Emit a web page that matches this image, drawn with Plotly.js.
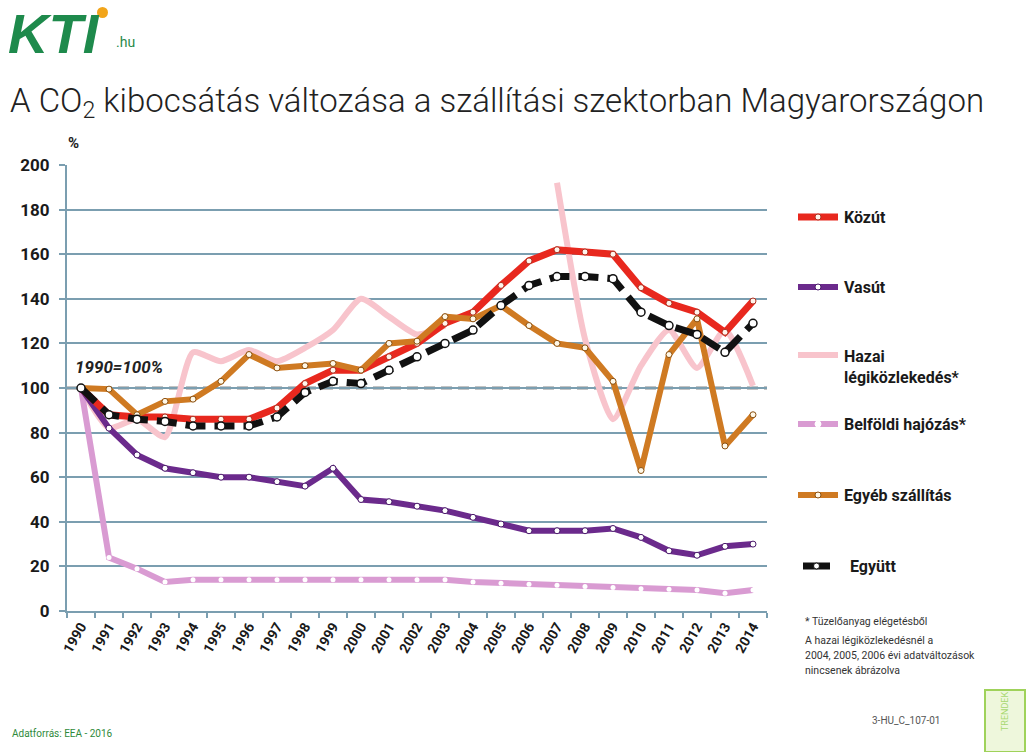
<!DOCTYPE html>
<html>
<head>
<meta charset="utf-8">
<script src="https://cdn.plot.ly/plotly-3.0.1.min.js"></script>
<style>html,body{margin:0;padding:0;background:#fff;}#chart{width:1034px;height:752px;}</style>
</head>
<body>
<div id="chart"></div>
<script>
// ---- data (percent, 1990 = 100) ----
const years = ['1990','1991','1992','1993','1994','1995','1996','1997','1998','1999','2000','2001','2002','2003','2004','2005','2006','2007','2008','2009','2010','2011','2012','2013','2014'];
const kozut   = [100, 88, 87, 87, 86, 86, 86, 91, 102, 108, 108, 114, 120, 129, 134, 146, 157, 162, 161, 160, 145, 138, 134, 125, 139];
const vasut   = [100, 82, 70, 64, 62, 60, 60, 58, 56, 64, 50, 49, 47, 45, 42, 39, 36, 36, 36, 37, 33, 27, 25, 29, 30];
const hazai   = [100, 82, 86, 78, 116, 112, 117, 112, 118, 126, 140, 132, 124, 128, null, null, null, 192, 122, 86, 110, 126, 109, 126, 101];
const hajozas = [100, 24, 19, 13, 14, 14, 14, 14, 14, 14, 14, 14, 14, 14, 13, 12.5, 12, 11.5, 11, 10.5, 10, 9.7, 9.4, 8, 9.4];
const egyeb   = [100, 99.5, 88, 94, 95, 103, 115, 109, 110, 111, 108, 120, 121, 132, 131, 137, 128, 120, 118, 103, 63, 115, 131, 74, 88];
const egyutt  = [100, 88, 86, 85, 83, 83, 83, 87, 98, 103, 102, 108, 114, 120, 126, 137, 146, 150, 150, 149, 134, 128, 124, 116, 129];

const seriesNames = ['Közút','Vasút','Hazai<br>légiközlekedés*','Belföldi hajózás*','Egyéb szállítás','Együtt'];
const footnotes = ['* Tüzelőanyag elégetésből','A hazai légiközlekedésnél a','2004, 2005, 2006 évi adatváltozások','nincsenek ábrázolva'];

// ---- styling ----
const FONT = 'Roboto, "Open Sans", sans-serif';
const C = {red:'#e8281e', purple:'#6b2a8c', pink:'#f8c4cc', orchid:'#d99bd2', orange:'#cf7a22', black:'#111111'};
const GRID = '#7b9eb0';

// plot area in pixels
const L = 67, R = 767, T = 165, B = 611;
const px = x => (x - L) / (R - L);
const py = y => (B - y) / (B - T);

function mk(fill, line, size, lw){ return {symbol:'circle', size:size, color:fill, line:{color:line, width:lw}}; }

const traces = [
  {x:years, y:hazai, name:seriesNames[2], mode:'lines', connectgaps:false,
   line:{color:C.pink, width:6, shape:'spline', smoothing:0.6}},
  {x:years, y:hajozas, name:seriesNames[3], mode:'lines+markers',
   line:{color:C.orchid, width:6}, marker:mk('#ffffff','#ffffff',5,0)},
  {x:years, y:vasut, name:seriesNames[1], mode:'lines+markers',
   line:{color:C.purple, width:6}, marker:mk('#ffffff','#4a1a6a',6,1)},
  {x:years, y:kozut, name:seriesNames[0], mode:'lines+markers',
   line:{color:C.red, width:7}, marker:mk('#fff4ec','#b03020',6,1)},
  {x:years, y:egyeb, name:seriesNames[4], mode:'lines+markers',
   line:{color:C.orange, width:6}, marker:mk('#fff8e8','#8a5010',6,1)},
  {x:years, y:egyutt, name:seriesNames[5], mode:'lines+markers',
   line:{color:C.black, width:7, dash:'20px,9px'}, marker:mk('#ffffff','#111111',8,1.5)}
];

const shapes = [
  // 1990 = 100 reference line
  {type:'line', xref:'paper', yref:'y', x0:0, x1:1, y0:100, y1:100, line:{color:'#111', width:2.5, dash:'11px,6px'}, layer:'below'},
  // logo dot
  {type:'circle', xref:'paper', yref:'paper', x0:px(97), x1:px(108), y0:py(7), y1:py(18), fillcolor:'#f2a51a', line:{width:0}},
  // TRENDEK box
  {type:'rect', xref:'paper', yref:'paper', x0:px(985), x1:px(1025), y0:py(690), y1:py(752), fillcolor:'#eef7dc', line:{color:'#9fd25a', width:2}}
];

const annotations = [
  {xref:'paper', yref:'paper', x:px(66), y:py(143), text:'<b>%</b>', showarrow:false, xanchor:'left', yanchor:'middle', font:{family:FONT, size:15, color:'#222'}},
  {xref:'paper', yref:'paper', x:px(73), y:py(367), text:'<b><i>1990=100%</i></b>', showarrow:false, xanchor:'left', yanchor:'middle', font:{family:FONT, size:17, color:'#222'}},
  {xref:'paper', yref:'paper', x:px(6), y:py(33), text:'<b><i>KTI</i></b>', showarrow:false, xanchor:'left', yanchor:'middle', font:{family:'"Liberation Sans", Arial, sans-serif', size:56, color:'#1e8a4c'}},
  {xref:'paper', yref:'paper', x:px(114), y:py(42), text:'.hu', showarrow:false, xanchor:'left', yanchor:'middle', font:{family:FONT, size:14, color:'#2a8a4a'}},
  {xref:'paper', yref:'paper', x:px(10), y:py(733), text:'Adatforrás: EEA - 2016', showarrow:false, xanchor:'left', yanchor:'middle', font:{family:FONT, size:10, color:'#2f8a3a'}},
  {xref:'paper', yref:'paper', x:px(870), y:py(720), text:'3-HU_C_107-01', showarrow:false, xanchor:'left', yanchor:'middle', font:{family:FONT, size:10, color:'#555'}},
  {xref:'paper', yref:'paper', x:px(1005), y:py(712), text:'TRENDEK', textangle:-90, showarrow:false, xanchor:'center', yanchor:'middle', font:{family:FONT, size:9, color:'#a8d870'}}
];

// custom legend
const legendItems = [
  {y:217, color:C.red, width:7, marker:true, mfill:'#fff4ec', mline:'#b03020', x0:798, x1:838, tx:842},
  {y:287, color:C.purple, width:6, marker:true, mfill:'#ffffff', mline:'#4a1a6a', x0:798, x1:838, tx:842},
  {y:355, color:C.pink, width:6, marker:false, x0:798, x1:838, tx:842},
  {y:424, color:C.orchid, width:6, marker:true, mfill:'#ffffff', mline:'#ffffff', x0:798, x1:838, tx:842},
  {y:495, color:C.orange, width:6, marker:true, mfill:'#fff8e8', mline:'#8a5010', x0:798, x1:838, tx:842},
  {y:566, color:C.black, width:7, marker:true, mfill:'#ffffff', mline:'#111111', x0:803, x1:830, tx:848}
];
legendItems.forEach((it, i) => {
  shapes.push({type:'line', xref:'paper', yref:'paper', x0:px(it.x0), x1:px(it.x1), y0:py(it.y), y1:py(it.y), line:{color:it.color, width:it.width}});
  if (it.marker) {
    const cx = (it.x0 + it.x1) / 2;
    shapes.push({type:'circle', xref:'paper', yref:'paper', x0:px(cx-3), x1:px(cx+3), y0:py(it.y+3), y1:py(it.y-3), fillcolor:it.mfill, line:{color:it.mline, width:1}});
  }
  annotations.push({xref:'paper', yref:'paper', x:px(it.tx), y:py(i === 2 ? it.y + 12 : it.y), text:'<b>' + seriesNames[i].replace('<br>', '</b><br><b>') + '</b>', showarrow:false, xanchor:'left', yanchor:'middle', align:'left', font:{family:FONT, size:16, color:'#1a1a1a'}});
});
footnotes.forEach((t, i) => {
  const yy = [621, 640, 655, 670][i];
  annotations.push({xref:'paper', yref:'paper', x:px(803), y:py(yy), text:t, showarrow:false, xanchor:'left', yanchor:'middle', font:{family:FONT, size:10.5, color:'#333'}});
});

const layout = {
  width:1034, height:752,
  paper_bgcolor:'#ffffff', plot_bgcolor:'#ffffff',
  margin:{l:L, r:1034-R, t:T, b:752-B, pad:0},
  showlegend:false,
  title:{text:'A CO<sub>2</sub> kibocsátás változása a szállítási szektorban Magyarországon', x:10/1034, xanchor:'left', xref:'container', y:1-100/752, yanchor:'middle', yref:'container', font:{family:FONT, size:33, color:'#222', weight:300}},
  xaxis:{type:'category', range:[-0.5, 24.5], tickson:'boundaries', ticks:'outside', ticklen:5, tickcolor:GRID, tickwidth:2,
         showgrid:false, showline:true, linecolor:GRID, linewidth:2, tickangle:-60,
         tickfont:{family:FONT, size:14, color:'#1a1a1a', weight:'bold'}, fixedrange:true, zeroline:false},
  yaxis:{range:[0,200], dtick:20, ticks:'outside', ticklen:6, tickcolor:GRID, tickwidth:2,
         showgrid:true, gridcolor:GRID, gridwidth:2, showline:true, linecolor:GRID, linewidth:2, zeroline:false,
         ticklabelstandoff:6, tickfont:{family:FONT, size:17, color:'#1a1a1a', weight:'bold'}, fixedrange:true},
  shapes:shapes,
  annotations:annotations
};

Plotly.newPlot('chart', traces, layout, {displayModeBar:false, staticPlot:true});
</script>
</body>
</html>
